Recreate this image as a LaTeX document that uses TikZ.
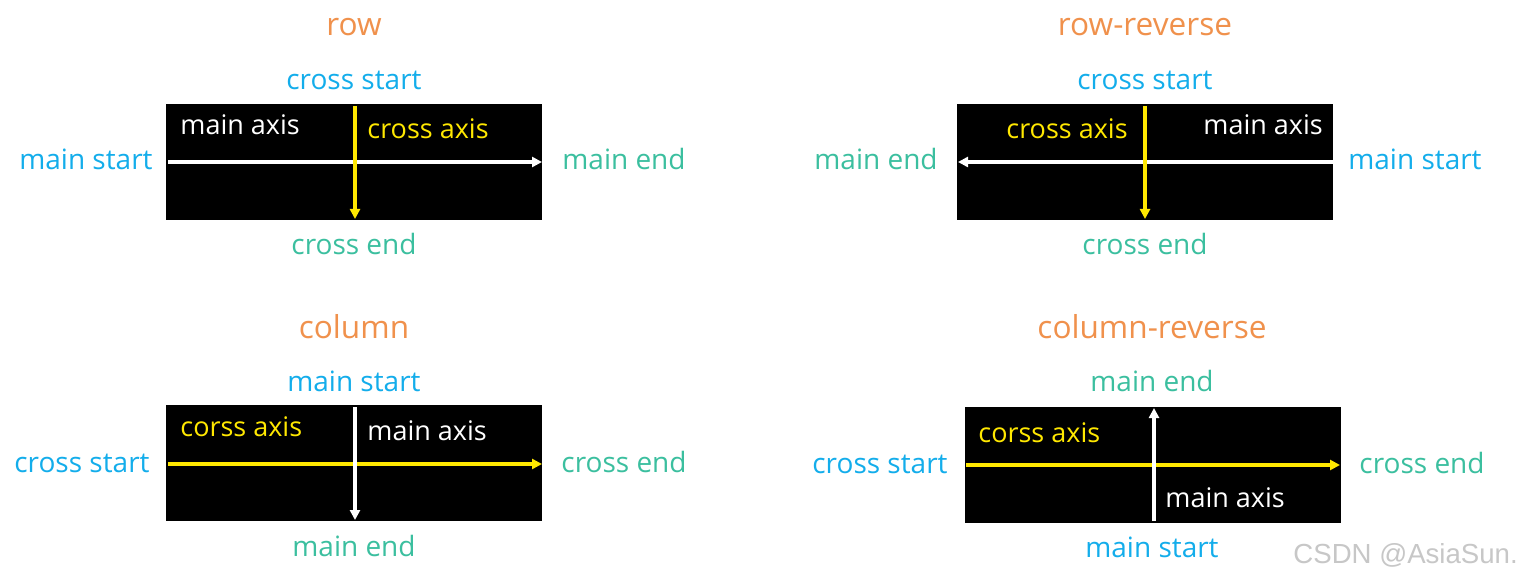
\documentclass[tikz,border=0pt]{standalone}
\usepackage{fontspec}
\setmainfont{Open Sans}
\newfontfamily\wmfont{Liberation Sans}
\usetikzlibrary{arrows.meta}
\definecolor{ttl}{HTML}{F0914C}
\definecolor{blu}{HTML}{13ADEB}
\definecolor{tea}{HTML}{3BBF9F}
\definecolor{yel}{HTML}{FFE800}
\tikzset{
  lbl/.style={inner sep=0pt, anchor=base, font=\fontsize{14}{16}\selectfont},
  ttlbl/.style={inner sep=0pt, anchor=base, text=ttl, font=\fontsize{15.8}{18}\selectfont},
  stlbl/.style={lbl, text=blu},
  enlbl/.style={lbl, text=tea},
  inlbl/.style={inner sep=0pt, anchor=base west, font=\fontsize{13.5}{16}\selectfont},
  panel/.style={fill=black, draw=none, inner sep=0pt, minimum width=376*0.5pt, minimum height=116*0.5pt},
  waxis/.style={draw=white, line width=1.6pt, -{Triangle[length=5pt,width=5pt]}},
  yaxis/.style={draw=yel, line width=1.6pt, -{Triangle[length=5pt,width=5pt]}},
}
\begin{document}
\begin{tikzpicture}[x=0.5pt,y=-0.5pt]
\useasboundingbox[fill=white] (0,0) rectangle (1524,582);

% ---------- row ----------
\node[panel] (p1) at (354,162) {};
\coordinate (p1ms) at (168,162);
\coordinate (p1me) at (542,162);
\coordinate (p1cs) at (355,106);
\coordinate (p1ce) at (355,219);
\draw[waxis] (p1ms) -- (p1me);
\draw[yaxis] (p1cs) -- (p1ce);
\node[inlbl, text=white] (p1ma) at (180,135) {main axis};
\node[inlbl, text=yel] (p1ca) at (367,139) {cross axis};
\node[ttlbl] (t1) at (354,36) {row};
\node[stlbl] (l1cs) at (354,90) {cross start};
\node[enlbl] (l1ce) at (354,255) {cross end};
\node[stlbl] (l1ms) at (86,170) {main start};
\node[enlbl] (l1me) at (624,170) {main end};

% ---------- row-reverse ----------
\node[panel] (p2) at (1145,162) {};
\coordinate (p2ms) at (1333,162);
\coordinate (p2me) at (958,162);
\coordinate (p2cs) at (1145,106);
\coordinate (p2ce) at (1145,219);
\draw[waxis] (p2ms) -- (p2me);
\draw[yaxis] (p2cs) -- (p2ce);
\node[inlbl, text=yel] (p2ca) at (1006,139) {cross axis};
\node[inlbl, text=white] (p2ma) at (1203,135) {main axis};
\node[ttlbl] (t2) at (1145,36) {row-reverse};
\node[stlbl] (l2cs) at (1145,90) {cross start};
\node[enlbl] (l2ce) at (1145,255) {cross end};
\node[enlbl] (l2me) at (876,170) {main end};
\node[stlbl] (l2ms) at (1415,170) {main start};

% ---------- column ----------
\node[panel] (p3) at (354,463) {};
\coordinate (p3cs) at (168,464);
\coordinate (p3ce) at (542,464);
\coordinate (p3ms) at (355,407);
\coordinate (p3me) at (355,520);
\draw[yaxis] (p3cs) -- (p3ce);
\draw[waxis] (p3ms) -- (p3me);
\node[inlbl, text=yel] (p3ca) at (180,436) {corss axis};
\node[inlbl, text=white] (p3ma) at (367,440) {main axis};
\node[ttlbl] (t3) at (354,338) {column};
\node[stlbl] (l3ms) at (354,391) {main start};
\node[enlbl] (l3me) at (354,556) {main end};
\node[stlbl] (l3cs) at (82,472) {cross start};
\node[enlbl] (l3ce) at (624,472) {cross end};

% ---------- column-reverse ----------
\node[panel] (p4) at (1152.5,464.5) {};
\coordinate (p4cs) at (966,465);
\coordinate (p4ce) at (1340,465);
\coordinate (p4ms) at (1154,521);
\coordinate (p4me) at (1154,408);
\draw[yaxis] (p4cs) -- (p4ce);
\draw[waxis] (p4ms) -- (p4me);
\node[inlbl, text=yel] (p4ca) at (978,442) {corss axis};
\node[inlbl, text=white] (p4ma) at (1165,507) {main axis};
\node[ttlbl] (t4) at (1152,338) {column-reverse};
\node[enlbl] (l4me) at (1152,391) {main end};
\node[stlbl] (l4ms) at (1152,557) {main start};
\node[stlbl] (l4cs) at (880,473) {cross start};
\node[enlbl] (l4ce) at (1422,473) {cross end};

% watermark
\node[inner sep=0pt, anchor=base west, text=black!22, font=\wmfont\fontsize{13.8}{16}\selectfont] (wm) at (1293,563) {CSDN @AsiaSun.};
\end{tikzpicture}
\end{document}
